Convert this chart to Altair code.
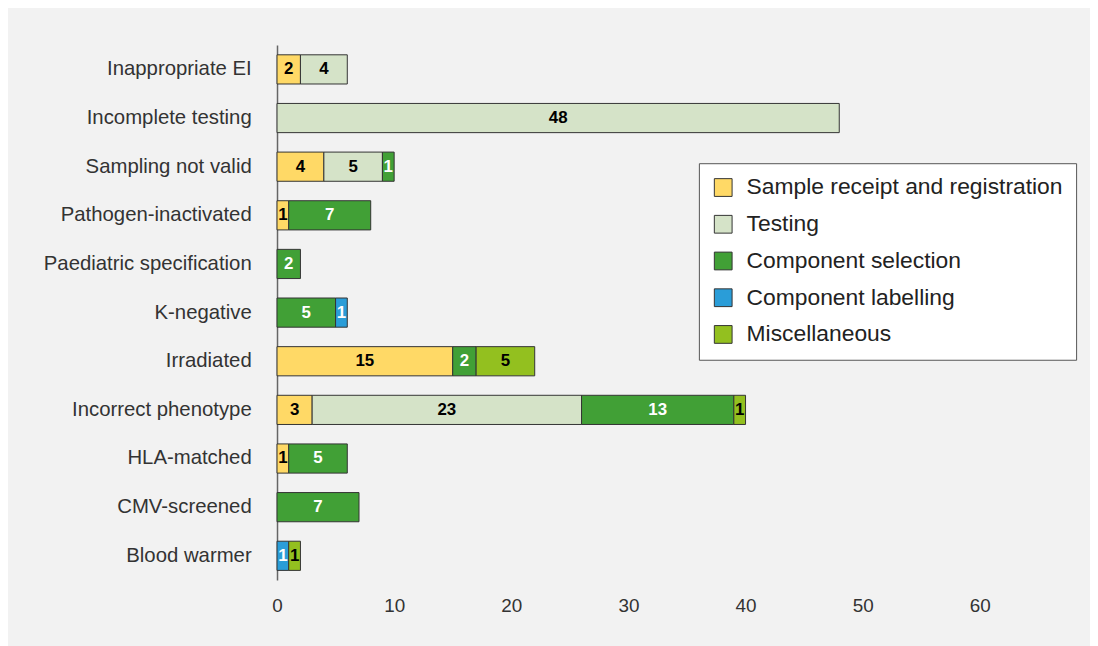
import altair as alt
import pandas as pd

reasons = ["Inappropriate EI", "Incomplete testing", "Sampling not valid",
           "Pathogen-inactivated", "Paediatric specification", "K-negative",
           "Irradiated", "Incorrect phenotype", "HLA-matched", "CMV-screened",
           "Blood warmer"]
categories = ["Sample receipt and registration", "Testing", "Component selection",
              "Component labelling", "Miscellaneous"]
colors = ["#FFD966", "#D5E3C8", "#41A036", "#2A9DD8", "#93C01F"]
text_colors = ["black", "black", "white", "white", "black"]

sample_receipt = [2, 0, 4, 1, 0, 0, 15, 3, 1, 0, 0]
testing = [4, 48, 5, 0, 0, 0, 0, 23, 0, 0, 0]
component_selection = [0, 0, 1, 7, 2, 5, 2, 13, 5, 7, 0]
component_labelling = [0, 0, 0, 0, 0, 1, 0, 0, 0, 0, 1]
miscellaneous = [0, 0, 0, 0, 0, 0, 5, 1, 0, 0, 1]

series = [sample_receipt, testing, component_selection, component_labelling, miscellaneous]
rows = []
for ci, (cat, vals) in enumerate(zip(categories, series)):
    for r, v in zip(reasons, vals):
        if v > 0:
            rows.append({"reason": r, "category": cat, "value": v, "order": ci,
                         "tcolor": text_colors[ci]})
df = pd.DataFrame(rows)

base = alt.Chart(df).transform_stack(
    stack="value", groupby=["reason"], as_=["x0", "x1"],
    sort=[alt.SortField("order", order="ascending")]
).transform_calculate(mid="(datum.x0 + datum.x1) / 2")

y_enc = alt.Y("reason:N", sort=reasons, title=None,
              scale=alt.Scale(paddingInner=0.4, paddingOuter=0.2),
              axis=alt.Axis(labelFontSize=20.5, labelColor="#333", labelFont="Liberation Sans",
                            labelPadding=26, ticks=False, domainColor="#666",
                            domainWidth=1.5, grid=False, labelLimit=400))

bars = base.mark_bar(stroke="#333", strokeWidth=1).encode(
    x=alt.X("x0:Q", title=None,
            scale=alt.Scale(domain=[0, 65], nice=False),
            axis=alt.Axis(values=[0, 10, 20, 30, 40, 50, 60], labelFontSize=19,
                          labelColor="#333", labelFont="Liberation Sans", domain=False,
                          ticks=False, grid=False, labelPadding=17, labelFlush=False)),
    x2="x1:Q",
    y=y_enc,
    color=alt.Color("category:N", sort=categories,
                    scale=alt.Scale(domain=categories, range=colors),
                    legend=alt.Legend(title=None, orient="none", legendX=425, legendY=119,
                                      fillColor="white", strokeColor="#555",
                                      padding=13, symbolType="square", symbolSize=320,
                                      symbolStrokeColor="#333", symbolStrokeWidth=1,
                                      labelFontSize=23, labelFont="Liberation Sans",
                                      labelColor="#222", labelOffset=12, rowPadding=13,
                                      labelLimit=400)),
    order=alt.Order("order:Q"),
)

labels = base.mark_text(fontSize=17, fontWeight="bold", font="Liberation Sans").encode(
    x=alt.X("mid:Q"),
    y=alt.Y("reason:N", sort=reasons),
    text=alt.Text("value:Q"),
    color=alt.Color("tcolor:N", scale=None),
)

chart = alt.layer(bars, labels).properties(
    width=767, height=539,
    autosize=alt.AutoSizeParams(type="none"),
    padding={"left": 271, "top": 35, "right": 52, "bottom": 64},
    background="#f2f2f2",
).configure_view(stroke=None)

chart.save("out.html", embed_options={"renderer": "svg", "actions": False})
